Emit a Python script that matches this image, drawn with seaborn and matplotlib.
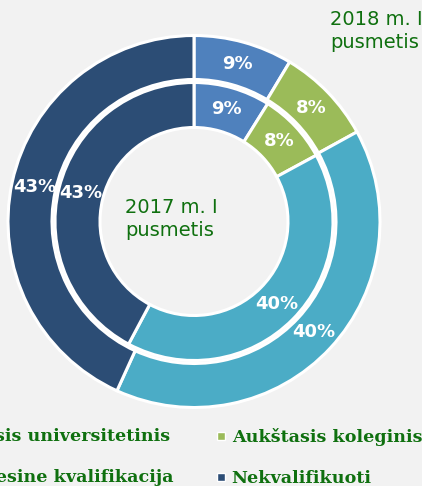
import matplotlib
matplotlib.use('Agg')
import matplotlib.pyplot as plt
import seaborn as sns
from matplotlib.lines import Line2D

# --- data ---
categories = ['Aukštasis universitetinis', 'Aukštasis koleginis',
              'Profesine kvalifikacija', 'Nekvalifikuoti']
share_2018 = [8.6, 8.4, 39.8, 43.2]   # outer ring
share_2017 = [8.9, 8.2, 40.7, 42.2]   # inner ring
labels_2018 = ['9%', '8%', '40%', '43%']
labels_2017 = ['9%', '8%', '40%', '43%']
ring_titles = ['2018 m. I\npusmetis', '2017 m. I\npusmetis']

colors = ['#4f81bd', '#9bbb59', '#4bacc6', '#2c4d75']
TEXT_GREEN = '#0f700f'
BG = '#f2f2f2'

sns.set_theme(style='white')
plt.rcParams['font.family'] = ['DejaVu Sans']

W, H = 422, 486
fig = plt.figure(figsize=(W / 100, H / 100), dpi=100, facecolor=BG)

# axes box: pie centre at (194, 221.5) px from top-left, outer radius 186 px
R = 186
cx, cy = 194, 221.5
ax = fig.add_axes([(cx - R) / W, (H - cy - R) / H, 2 * R / W, 2 * R / H])
ax.set_facecolor(BG)

wedge_style = dict(edgecolor='white', linewidth=2.2)
label_style = dict(color='white', fontsize=13, fontweight='bold')

outer_r, outer_w = 1.0, 44 / R
inner_r, inner_w = 139 / R, 45 / R

_, outer_txt = ax.pie(share_2018, radius=outer_r, colors=colors,
                      startangle=90, counterclock=False,
                      labels=labels_2018, labeldistance=163 / R,
                      wedgeprops=dict(width=outer_w, **wedge_style),
                      textprops=label_style)
_, inner_txt = ax.pie(share_2017, radius=inner_r, colors=colors,
                      startangle=90, counterclock=False,
                      labels=labels_2017, labeldistance=(117 / R) / inner_r,
                      wedgeprops=dict(width=inner_w, **wedge_style),
                      textprops=label_style)
for t in list(outer_txt) + list(inner_txt):
    t.set_ha('center')
    t.set_va('center')

ax.set_xlim(-1.0, 1.0)
ax.set_ylim(-1.0, 1.0)
ax.set_aspect('equal')
ax.axis('off')

# ring titles
fig.text(330 / W, 1 - 10 / H, ring_titles[0], ha='left', va='top',
         fontsize=14, color=TEXT_GREEN, linespacing=1.25)
fig.text(125 / W, 1 - 198 / H, ring_titles[1], ha='left', va='top',
         fontsize=14, color=TEXT_GREEN, linespacing=1.25)

# legend: the left column runs off the canvas like in the reference,
# so its labels are placed as right-aligned text; right column is a legend
legend_font = dict(family='DejaVu Serif', weight='bold', size=12.6)
fig.text(170 / W, 1 - 441 / H, categories[0], ha='right', va='baseline',
         color=TEXT_GREEN, fontdict=legend_font)
fig.text(174 / W, 1 - 482 / H, categories[2], ha='right', va='baseline',
         color=TEXT_GREEN, fontdict=legend_font)

handles = [Line2D([0], [0], marker='s', linestyle='', markersize=6,
                  markerfacecolor=c, markeredgecolor='white', markeredgewidth=1)
           for c in colors]
fig.legend([handles[1], handles[3]], [categories[1], categories[3]],
           loc='upper right', bbox_to_anchor=(438 / W, 1 - 412 / H),
           frameon=False, handlelength=0.5, handletextpad=0.35,
           labelspacing=1.4, prop=legend_font, labelcolor=TEXT_GREEN)

fig.savefig('out.png', dpi=100, facecolor=BG)
